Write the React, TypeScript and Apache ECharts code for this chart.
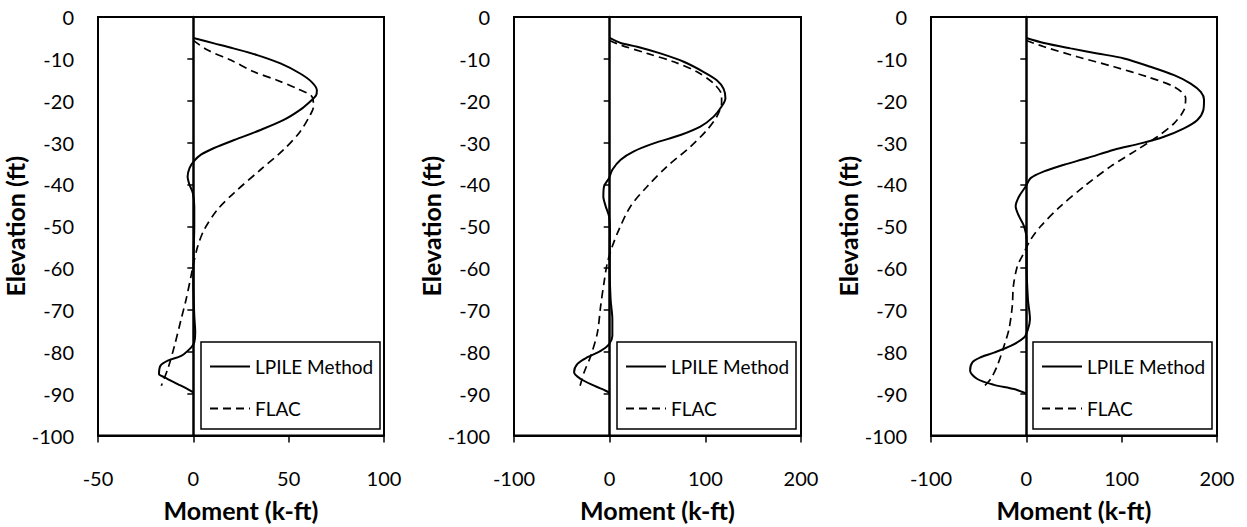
import React, { useEffect, useRef } from "react";
import * as echarts from "echarts";

// Panel 1 (-50..100)
const p1LpileElev = [-5, -6.3, -7.5, -9.1, -11.1, -13.5, -15.5, -17.5, -18.7, -20.2, -22.2, -24.6, -27, -29.4, -31.3, -32.9, -34.5, -36.1, -38.1, -40.1, -42, -45.2, -50, -55.6, -63.5, -71.4, -75.4, -77.8, -79, -81, -82.1, -83.3, -85.3, -86.1, -87.7, -88.9, -89.7];
const p1LpileMoment = [0, 10.9, 21, 33.5, 45.7, 56, 62, 64.8, 64.4, 61.3, 56, 47.4, 35.2, 21.4, 10.9, 4, 0.2, -2, -3, -2, -0.3, 0.5, 0.5, 0.2, 0, 0.5, 1, 0.5, -1.2, -6.4, -13.4, -17.2, -18, -15.1, -8.2, -3, 0];
const p1FlacElev = [-5.6, -7.9, -10.3, -13.1, -15.1, -17.1, -19, -21.4, -23.4, -27.4, -31.7, -36.5, -42, -46, -50.8, -54.8, -58.7, -61.9, -67.5, -72.2, -78.6, -84.1, -88.1];
const p1FlacMoment = [0, 7.5, 19.6, 31.8, 43.9, 54.3, 62.2, 63, 61.3, 56, 47.4, 35.2, 21.4, 12.7, 5.7, 2.3, 0.2, -1.2, -3.8, -6.4, -9.9, -13.4, -16.8];

// Panel 2 (-100..200)
const p2LpileElev = [-5, -6.2, -7.1, -8.7, -10.7, -13.1, -15.1, -17.1, -19.4, -21.4, -23.8, -26.2, -28.2, -30.2, -32.1, -34.1, -36.5, -38.5, -40.5, -42.9, -45.2, -47.6, -51.6, -59.5, -67.5, -72.2, -76.2, -78.2, -79.8, -81.3, -82.9, -84.9, -86.5, -88.1, -89.3, -89.8];
const p2LpileMoment = [0, 11.5, 28.8, 53, 77.4, 98, 112, 119, 121, 117, 108.7, 94.8, 74, 46, 25.3, 11.5, 2.8, -0.7, -5.9, -6.6, -4.2, -0.7, 0.3, 0, 1, 2.8, 2.8, -0.7, -9.4, -23.3, -33.7, -37.2, -30.2, -16.3, -4.2, 0];
const p2FlacElev = [-5.6, -6.7, -8.7, -10.7, -13.1, -15.9, -18.7, -20.6, -23.8, -27, -31, -35.7, -40.5, -45.2, -50.8, -54.8, -58.7, -63.5, -69, -75.4, -81, -84.9, -88.1];
const p2FlacMoment = [0, 11.5, 39.2, 67, 91.3, 108.7, 117, 117, 112, 101.7, 84.4, 60, 39.2, 21.9, 9.7, 2.8, -2.4, -5.9, -9.4, -12.8, -19.8, -26.7, -30.9];

// Panel 3 (-100..200)
const p3LpileElev = [-5, -6.2, -7.5, -8.7, -9.9, -11.9, -13.9, -15.9, -17.9, -19.8, -22.2, -24.6, -26.6, -28.6, -30.2, -31.7, -33.7, -35.3, -36.9, -38.5, -40.5, -42.9, -45.2, -47.6, -50, -53.2, -59.5, -67.5, -72.2, -74.6, -76.6, -78.6, -80.2, -81.3, -82.5, -84.5, -86.5, -87.9, -88.9, -90];
const p3LpileMoment = [0, 18.5, 46.5, 74.5, 102.4, 130.4, 155, 172.4, 183, 186.4, 185.7, 179.4, 165.4, 144.4, 120, 92, 64, 39.5, 18.5, 4.5, -0.7, -7.7, -11.2, -7.7, -2.4, 0.3, 0.3, 1.7, 3.8, 1.7, -2.4, -16.4, -33.9, -47.9, -56.6, -59, -51.4, -33.9, -12.9, 0];
const p3FlacElev = [-5.6, -7.1, -9.5, -11.9, -14.3, -16.7, -19.4, -22.2, -25.4, -28.6, -31.7, -35.7, -40.5, -45.2, -50, -53.2, -57.1, -59.5, -64.3, -69, -74.6, -78.6, -83.3, -86.5, -88.1];
const p3FlacMoment = [0, 18.5, 53.5, 92, 127, 155, 167.1, 165.4, 155, 137.4, 116.4, 88.5, 60.5, 36, 15, 4.5, -4.2, -9.4, -13.6, -14.7, -18.2, -23.4, -30.4, -37.4, -43.7];

const xRanges = [
  [-50, 100, 50],
  [-100, 200, 100],
  [-100, 200, 100],
];
const seriesNames = ["LPILE Method", "FLAC"];
const xTitle = "Moment (k-ft)";
const yTitle = "Elevation (ft)";

const zip = (xs: number[], ys: number[]) => xs.map((x, i) => [x, ys[i]]);

const panels = [
  { lpile: zip(p1LpileMoment, p1LpileElev), flac: zip(p1FlacMoment, p1FlacElev) },
  { lpile: zip(p2LpileMoment, p2LpileElev), flac: zip(p2FlacMoment, p2FlacElev) },
  { lpile: zip(p3LpileMoment, p3LpileElev), flac: zip(p3FlacMoment, p3FlacElev) },
];

const gridPos = [
  { left: 98, width: 286 },
  { left: 514, width: 287 },
  { left: 931, width: 286 },
];
const legendBox = [
  { x: 201, w: 179 },
  { x: 617, w: 179 },
  { x: 1033, w: 179 },
];

const FONT = "Lato";

export default function App() {
  const ref = useRef<HTMLDivElement>(null);
  useEffect(() => {
    document.body.style.margin = "0";
    const chart = echarts.init(ref.current!, null, { renderer: "svg" });
    const grid: any[] = [];
    const xAxis: any[] = [];
    const yAxis: any[] = [];
    const series: any[] = [];
    const legend: any[] = [];
    const graphic: any[] = [];
    panels.forEach((p, i) => {
      grid.push({
        left: gridPos[i].left,
        top: 17,
        width: gridPos[i].width,
        height: 421,
        show: true,
        borderColor: "#000",
        borderWidth: 2,
        backgroundColor: "#fff",
      });
      xAxis.push({
        type: "value",
        gridIndex: i,
        min: xRanges[i][0],
        max: xRanges[i][1],
        interval: xRanges[i][2],
        name: xTitle,
        nameLocation: "middle",
        nameGap: 74,
        nameTextStyle: { fontFamily: FONT, fontSize: 25, fontWeight: "bold", color: "#000", verticalAlign: "middle" },
        axisLine: { onZero: false, lineStyle: { color: "#000", width: 2 } },
        axisTick: { show: true, length: 7, lineStyle: { color: "#000", width: 1.5 } },
        axisLabel: { fontFamily: FONT, fontSize: 20, color: "#000", margin: 32 },
        splitLine: { show: false },
      });
      yAxis.push({
        type: "value",
        gridIndex: i,
        min: -100,
        max: 0,
        interval: 10,
        position: "left",
        name: yTitle,
        nameLocation: "middle",
        nameGap: 71,
        nameTextStyle: { fontFamily: FONT, fontSize: 25, fontWeight: "bold", color: "#000", verticalAlign: "middle" },
        axisLine: { show: false, onZero: false },
        axisTick: { show: false },
        axisLabel: { fontFamily: FONT, fontSize: 20, color: "#000", margin: 24 },
        splitLine: { show: false },
      });
      yAxis.push({
        type: "value",
        gridIndex: i,
        min: -100,
        max: 0,
        interval: 10,
        position: "left",
        axisLine: { show: true, onZero: true, lineStyle: { color: "#000", width: 2.5 } },
        axisTick: { show: true, length: 6, lineStyle: { color: "#000", width: 1.5 } },
        axisLabel: { show: false },
        splitLine: { show: false },
      });
      series.push({
        name: seriesNames[0],
        type: "line",
        xAxisIndex: i,
        yAxisIndex: i * 2,
        data: p.lpile,
        symbol: "none",
        smooth: 0.3,
        lineStyle: { color: "#000", width: 2, type: "solid" },
        itemStyle: { color: "#000" },
        z: 5,
      });
      series.push({
        name: seriesNames[1],
        type: "line",
        xAxisIndex: i,
        yAxisIndex: i * 2,
        data: p.flac,
        symbol: "none",
        smooth: 0.3,
        lineStyle: { color: "#000", width: 1.7, type: [8, 5] },
        itemStyle: { color: "#000" },
        z: 5,
      });
      graphic.push({
        type: "rect",
        shape: { x: legendBox[i].x, y: 342, width: legendBox[i].w, height: 87 },
        style: { fill: "#fff", stroke: "#000", lineWidth: 1.5 },
        z: 6,
      });
      legend.push({
        data: seriesNames,
        orient: "vertical",
        left: legendBox[i].x + 8,
        top: 357,
        padding: 0,
        itemWidth: 40,
        itemHeight: 14,
        itemGap: 23,
        selectedMode: false,
        z: 10,
        itemStyle: { opacity: 0 },
        textStyle: { fontFamily: FONT, fontSize: 19, color: "#000" },
      });
    });
    chart.setOption({
      animation: false,
      backgroundColor: "#fff",
      grid,
      xAxis,
      yAxis,
      series,
      legend,
      graphic,
    });
    return () => chart.dispose();
  }, []);
  return <div ref={ref} style={{ width: 1247, height: 527 }} />;
}
